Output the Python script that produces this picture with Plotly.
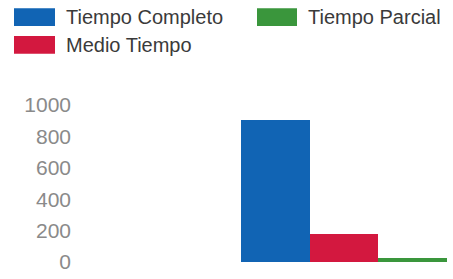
import plotly.graph_objects as go

# ---- data ----
categories = ["Jornada"]
series_names = ["Tiempo Completo", "Medio Tiempo", "Tiempo Parcial"]
completo = [905]
medio = [180]
parcial = [25]
y_ticks = [0, 200, 400, 600, 800, 1000]

colors = {"Tiempo Completo": "#1164b4", "Medio Tiempo": "#d3183f", "Tiempo Parcial": "#3a963c"}

W, H = 453, 279
PL, PR, PT, PB = 80, 447, 105, 264   # plot area in pixels
ML, MR, MT, MB = PL, W - PR, PT, H - PB
PW, PH = PR - PL, PB - PT


def fx(p):
    return (p - PL) / PW


def fy(p):
    return (PB - p) / PH


fig = go.Figure()
for name, vals in zip(series_names, [completo, medio, parcial]):
    fig.add_trace(go.Bar(x=categories, y=vals, name=name,
                         marker=dict(color=colors[name], line=dict(width=0)),
                         showlegend=False))

# manual legend (large swatches like the original)
legend_items = [("Tiempo Completo", 14, 55, 7, 25, 64),
                ("Tiempo Parcial", 257, 297, 7, 25, 306),
                ("Medio Tiempo", 14, 55, 35, 53, 64)]
shapes, annos = [], []
for name, x0, x1, y0, y1, tx in legend_items:
    shapes.append(dict(type="rect", xref="paper", yref="paper",
                       x0=fx(x0), x1=fx(x1), y0=fy(y1), y1=fy(y0),
                       fillcolor=colors[name], line=dict(width=0)))
    annos.append(dict(text=name, xref="paper", yref="paper", x=fx(tx), y=fy((y0 + y1) / 2),
                      xanchor="left", yanchor="middle", showarrow=False,
                      font=dict(size=20, color="#3a3a3a", family="Liberation Sans, Arial")))

fig.update_layout(
    width=W, height=H,
    margin=dict(l=ML, r=MR, t=MT, b=MB, pad=0),
    paper_bgcolor="white", plot_bgcolor="white",
    barmode="group", bargap=0, bargroupgap=0,
    shapes=shapes, annotations=annos,
    xaxis=dict(visible=False, range=[-1.2816, 0.5]),
    yaxis=dict(range=[0, 1000], tickvals=y_ticks, showgrid=False, zeroline=False,
               showline=False, ticks="", ticklabelstandoff=8,
               tickfont=dict(size=21, color="#8a8a8a", family="Liberation Sans, Arial")),
    font=dict(family="Liberation Sans, Arial"),
)

fig.write_html("out.html", config={"displayModeBar": False},
               post_script="document.body.style.margin='0';")
